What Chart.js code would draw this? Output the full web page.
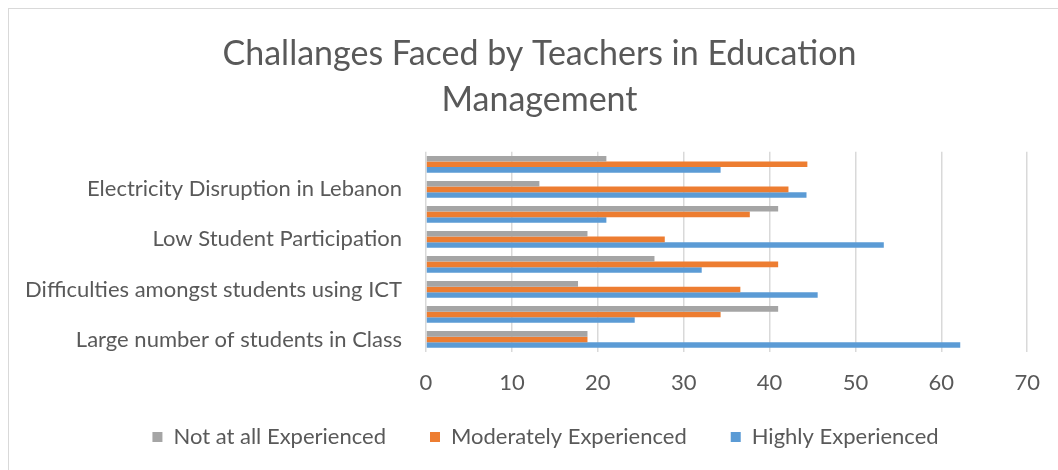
<!DOCTYPE html>
<html>
<head>
<meta charset="utf-8">
<script src="https://cdn.jsdelivr.net/npm/chart.js@4.4.1/dist/chart.umd.min.js"></script>
<style>
  html, body { margin: 0; padding: 0; background: #fff; overflow: hidden; }
  #wrap { position: relative; width: 1058px; height: 470px; overflow: hidden; }
  #frame { position: absolute; left: 8px; top: 8px; width: 1100px; height: 500px; border: 1px solid #d9d9d9; box-sizing: border-box; pointer-events: none; }
</style>
</head>
<body>
<div id="wrap">
  <canvas id="c" width="1058" height="470"></canvas>
  <div id="frame"></div>
</div>
<script>
// Categories in Excel order (first = bottom of chart)
const categories = [
  "Large number of students in Class",
  "",
  "Difficulties amongst students using ICT",
  "",
  "Low Student Participation",
  "",
  "Electricity Disruption in Lebanon",
  ""
];
const notAtAll   = [18.8, 41.0, 17.7, 26.6, 18.8, 41.0, 13.2, 21.0];
const moderately = [18.8, 34.3, 36.6, 41.0, 27.8, 37.7, 42.2, 44.4];
const highly     = [62.2, 24.3, 45.6, 32.1, 53.3, 21.0, 44.3, 34.3];
const seriesNames = ["Not at all Experienced", "Moderately Experienced", "Highly Experienced"];
const titleLines = ["Challanges Faced by Teachers in Education", "Management"];
const xTicks = { min: 0, max: 70, step: 10 };

const FONT = "Lato, 'Open Sans', sans-serif";
const TXT = "#595959";

// Nudge title & legend to match the reference's centring/spacing
const nudge = {
  id: 'nudge',
  afterLayout(chart) {
    const t = chart.titleBlock;
    if (t) { t.left += 20; t.right += 20; }
    const l = chart.legend;
    if (l) { l.left += 26; l.right += 26; l.top -= 32; }
  }
};

new Chart(document.getElementById('c'), {
  type: 'bar',
  data: {
    labels: categories,
    datasets: [
      { label: seriesNames[0], data: notAtAll,   backgroundColor: '#A5A5A5' },
      { label: seriesNames[1], data: moderately, backgroundColor: '#ED7D31' },
      { label: seriesNames[2], data: highly,     backgroundColor: '#5B9BD5' }
    ]
  },
  plugins: [nudge],
  options: {
    indexAxis: 'y',
    responsive: false,
    animation: false,
    devicePixelRatio: 1,
    datasets: { bar: { categoryPercentage: 0.67, barPercentage: 1.0 } },
    layout: { padding: { left: 10, right: 29, top: 8, bottom: 10 } },
    plugins: {
      tooltip: { enabled: false },
      title: {
        display: true,
        text: titleLines,
        color: TXT,
        font: { family: FONT, size: 34, weight: 'normal', lineHeight: 1.35 },
        padding: { top: 23, bottom: 29 }
      },
      legend: {
        position: 'bottom',
        maxHeight: 46,
        labels: {
          color: TXT,
          font: { family: FONT, size: 22 },
          boxWidth: 10,
          boxHeight: 10,
          padding: 44
        }
      }
    },
    scales: {
      x: {
        min: xTicks.min, max: xTicks.max,
        ticks: { stepSize: xTicks.step, color: TXT, font: { family: FONT, size: 22 }, padding: 18 },
        grid: { color: '#d9d9d9', lineWidth: 1.5, drawTicks: false },
        border: { display: false },
        afterFit: (s) => { s.height = 62; }
      },
      y: {
        reverse: true,
        ticks: { autoSkip: false, color: TXT, font: { family: FONT, size: 22 }, padding: 24 },
        grid: { display: false, drawTicks: false },
        border: { display: false },
        afterFit: (s) => { s.width = 416; }
      }
    }
  }
});
</script>
</body>
</html>
